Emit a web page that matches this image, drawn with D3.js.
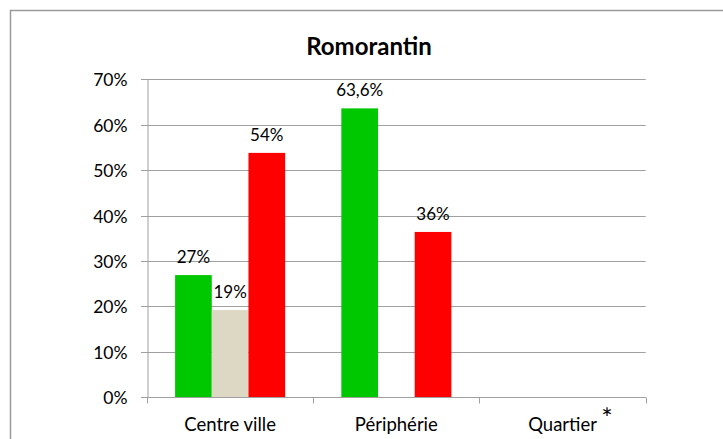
<!DOCTYPE html>
<html><head><meta charset="utf-8">
<script src="https://cdn.jsdelivr.net/npm/d3@7"></script>
<style>
html,body{margin:0;padding:0;background:#fff;}
text{font-family:Lato,"Open Sans",sans-serif;fill:#000;}
</style></head>
<body><svg id="chart" width="723" height="439"></svg>
<script>
const title = "Romorantin";
const categories = ["Centre ville", "Périphérie", "Quartier"];
const seriesNames = ["Oui", "Sans avis", "Non"];
const seriesColors = ["#00c800", "#ddd8c4", "#ff0000"];
const valuesGreen = [26.9, 63.6, null];
const valuesBeige = [19.2, null, null];
const valuesRed = [53.8, 36.4, null];
const labelsGreen = ["27%", "63,6%", ""];
const labelsBeige = ["19%", "", ""];
const labelsRed = ["54%", "36%", ""];
const yTicks = [0, 10, 20, 30, 40, 50, 60, 70];
const footnoteMark = "*";

const series = [
  {name: seriesNames[0], color: seriesColors[0], values: valuesGreen, labels: labelsGreen},
  {name: seriesNames[1], color: seriesColors[1], values: valuesBeige, labels: labelsBeige},
  {name: seriesNames[2], color: seriesColors[2], values: valuesRed, labels: labelsRed}
];

const svg = d3.select("#chart");
const m = {left: 147, right: 77.3, top: 79.3, bottom: 41.7};
const W = 723, H = 439;
const x0 = d3.scaleBand().domain(categories).range([m.left, W - m.right]).paddingInner(0).paddingOuter(0);
const innerPad = 0.338;
const x1 = d3.scaleBand().domain(series.map(s => s.name))
  .range([x0.bandwidth() * innerPad / 2, x0.bandwidth() * (1 - innerPad / 2)]).padding(0);
const y = d3.scaleLinear().domain([0, 70]).range([H - m.bottom, m.top]);

// outer border
svg.append("path").attr("d", `M10.5,${H}V10.5H${W}`).attr("fill", "none")
  .attr("stroke", "#9a9a9a").attr("stroke-width", 1.5);

// title
svg.append("text").attr("x", 369).attr("y", 55).attr("text-anchor", "middle")
  .style("font-weight", "bold").style("font-size", "24px").text(title);

// grid
svg.append("g").selectAll("line").data(yTicks).join("line")
  .attr("x1", m.left - 6).attr("x2", W - m.right)
  .attr("y1", d => Math.round(y(d)) + 0.5).attr("y2", d => Math.round(y(d)) + 0.5)
  .attr("stroke", "#a0a0a0").attr("stroke-width", 1);

// y axis
const yAxis = d3.axisLeft(y).tickValues(yTicks).tickFormat(d => d + "%").tickSize(0).tickPadding(20);
const gy = svg.append("g").attr("transform", `translate(${m.left + 0.5},0)`).call(yAxis);
gy.select(".domain").attr("stroke", "#a0a0a0");
gy.selectAll("text").style("font-size", "17.5px").style("font-family", "Lato").attr("dy", "0.37em");

// bars
const groups = svg.append("g").selectAll("g").data(series).join("g").attr("fill", d => d.color);
groups.selectAll("rect").data(s => categories.map((c, i) => ({c, v: s.values[i], s: s.name})).filter(d => d.v != null))
  .join("rect")
  .attr("x", d => x0(d.c) + x1(d.s))
  .attr("width", x1.bandwidth())
  .attr("y", d => y(d.v))
  .attr("height", d => y(0) - y(d.v));

// data labels
const lab = svg.append("g");
series.forEach(s => {
  categories.forEach((c, i) => {
    if (s.values[i] == null || !s.labels[i]) return;
    lab.append("text").attr("x", x0(c) + x1(s.name) + x1.bandwidth() / 2)
      .attr("y", y(s.values[i]) - 12).attr("text-anchor", "middle")
      .style("font-size", "17px").text(s.labels[i]);
  });
});

// x axis
const gx = svg.append("g").attr("transform", `translate(0,${Math.round(y(0)) + 0.5})`);
gx.append("line").attr("x1", m.left).attr("x2", W - m.right).attr("stroke", "#a0a0a0");
const bounds = [m.left, ...categories.map(c => x0(c) + x0.bandwidth())];
gx.selectAll("line.tk").data(bounds).join("line").attr("class", "tk")
  .attr("x1", d => Math.round(d) + 0.5).attr("x2", d => Math.round(d) + 0.5)
  .attr("y1", 0).attr("y2", 6).attr("stroke", "#a0a0a0");
gx.selectAll("text.cat").data(categories).join("text").attr("class", "cat")
  .attr("x", d => x0(d) + x0.bandwidth() / 2).attr("y", 33.5)
  .attr("text-anchor", "middle").style("font-size", "18.5px").text(d => d);

// footnote asterisk
svg.append("text").attr("x", x0("Quartier") + x0.bandwidth() / 2 + 44.5).attr("y", 428)
  .attr("text-anchor", "middle").style("font-size", "27px").text(footnoteMark);
</script></body></html>
